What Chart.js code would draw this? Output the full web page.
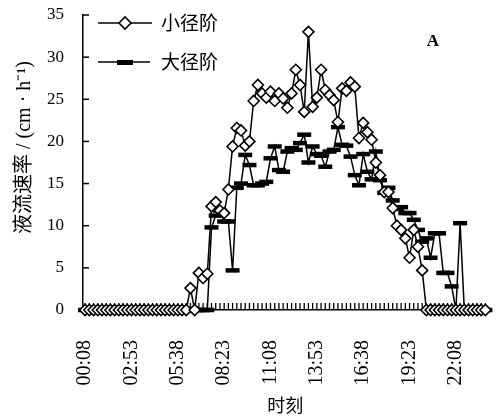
<!DOCTYPE html>
<html>
<head>
<meta charset="utf-8">
<script src="https://cdn.jsdelivr.net/npm/chart.js@4.4.1/dist/chart.umd.min.js"></script>
<style>
  body { margin: 0; background: #fff; }
</style>
</head>
<body>
<canvas id="myChart" width="499" height="420"></canvas>
<script>
Chart.defaults.font.family = "'Liberation Serif', 'Noto Sans CJK SC', serif";
Chart.defaults.color = '#000';

// time of day, every 15 min starting at 00:08
var times = [];
for (var m = 8; m < 24 * 60; m += 15) {
    var hh = Math.floor(m / 60), mm = m % 60;
    times.push((hh < 10 ? '0' : '') + hh + ':' + (mm < 10 ? '0' : '') + mm);
}

var yTicks = [0, 5, 10, 15, 20, 25, 30, 35];

// 小径阶 (small diameter class)
var smallVals = [
    0, 0, 0, 0, 0, 0, 0, 0, 0, 0, 0, 0, 0, 0, 0, 0, 0, 0, 0, 0, 0, 0, 0, 0, 0,
    2.6, 0, 4.4, 3.8, 4.3, 12.3, 12.8, 11.8, 11.5, 14.3, 19.4, 21.6, 21.3, 19.5, 20.0,
    24.8, 26.7, 25.7, 25.2, 25.9, 24.8, 25.7, 25.1, 24.0, 25.7, 28.5, 26.7, 23.5, 33.0,
    24.1, 25.2, 28.5, 26.1, 25.5, 24.9, 22.3, 26.3, 26.0, 27.0, 26.5, 20.4, 22.2, 21.1,
    20.2, 17.5, 16.0, 14.0, 14.0, 12.1, 10.0, 9.5, 8.5, 6.2, 9.5, 7.5, 4.7,
    0, 0, 0, 0, 0, 0, 0, 0, 0, 0, 0, 0, 0, 0, 0
];

// 大径阶 (large diameter class)
var bigVals = [
    0, 0, 0, 0, 0, 0, 0, 0, 0, 0, 0, 0, 0, 0, 0, 0, 0, 0, 0, 0, 0, 0, 0, 0, 0, 0, 0, 0, 0, 0,
    9.8, 11.2, 11.8, 10.5, 10.5, 4.7, 14.5, 15.0, 18.4, 17.2, 14.8, 14.8, 15.0, 15.2, 18.0,
    19.4, 16.6, 16.4, 18.8, 19.2, 19.0, 19.8, 20.8, 17.5, 19.4, 18.5, 18.3, 17.0, 18.8,
    19.0, 21.7, 19.6, 19.5, 18.2, 16.0, 14.8, 18.5, 16.4, 15.5, 18.8, 15.4, 13.9, 14.5,
    13.0, 12.0, 12.2, 11.5, 11.5, 10.7, 9.5, 8.1, 8.5, 6.2, 9.1, 9.1, 4.4, 4.4, 2.8, 0, 10.3,
    0, 0, 0, 0, 0, 0
];

// inward tick marks, legend box and panel letter
var extras = {
    id: 'extras',
    beforeDatasetsDraw: function (chart) {
        var ctx = chart.ctx;
        var x = chart.scales.x, y = chart.scales.y, area = chart.chartArea;
        ctx.save();
        ctx.strokeStyle = '#000';
        ctx.lineWidth = 1.3;
        for (var i = 0; i < times.length; i++) {
            var px = x.getPixelForValue(i);
            ctx.beginPath();
            ctx.moveTo(px, area.bottom);
            ctx.lineTo(px, area.bottom - 7);
            ctx.stroke();
        }
        ctx.lineWidth = 1.5;
        yTicks.forEach(function (v) {
            var py = y.getPixelForValue(v);
            ctx.beginPath();
            ctx.moveTo(area.left, py);
            ctx.lineTo(area.left + 6, py);
            ctx.stroke();
        });
        ctx.restore();
    },
    afterDraw: function (chart) {
        var ctx = chart.ctx;
        ctx.save();
        ctx.strokeStyle = '#000';
        ctx.fillStyle = '#000';
        // legend row 1: diamond
        ctx.lineWidth = 1.5;
        ctx.beginPath();
        ctx.moveTo(98, 23);
        ctx.lineTo(152, 23);
        ctx.stroke();
        ctx.beginPath();
        ctx.moveTo(119, 23);
        ctx.lineTo(125, 17);
        ctx.lineTo(131, 23);
        ctx.lineTo(125, 29);
        ctx.closePath();
        ctx.fillStyle = '#fff';
        ctx.fill();
        ctx.lineWidth = 1.6;
        ctx.stroke();
        // legend row 2: dash
        ctx.lineWidth = 1.5;
        ctx.beginPath();
        ctx.moveTo(98, 62);
        ctx.lineTo(150, 62);
        ctx.stroke();
        ctx.fillStyle = '#000';
        ctx.fillRect(117, 60, 16, 5);
        ctx.font = "19px 'Noto Sans CJK SC'";
        ctx.textBaseline = 'middle';
        ctx.textAlign = 'left';
        ctx.fillText('小径阶', 161, 23);
        ctx.fillText('大径阶', 161, 62);
        ctx.font = "bold 17px 'Liberation Serif'";
        ctx.textAlign = 'center';
        ctx.fillText('A', 433, 42);
        ctx.restore();
    }
};

var ctx = document.getElementById('myChart').getContext('2d');
var myChart = new Chart(ctx, {
    type: 'line',
    data: {
        labels: times,
        datasets: [{
            label: '小径阶',
            data: smallVals,
            borderColor: '#000',
            borderWidth: 1.5,
            pointStyle: 'rectRot',
            pointRadius: 5.5,
            pointBorderWidth: 1.6,
            pointBackgroundColor: '#fff',
            pointBorderColor: '#000',
            clip: false,
            order: 0
        }, {
            label: '大径阶',
            data: bigVals,
            borderColor: '#000',
            borderWidth: 1.5,
            pointStyle: 'line',
            pointRadius: 7,
            pointBorderWidth: 4.5,
            pointBorderColor: '#000',
            clip: false,
            order: 1
        }]
    },
    options: {
        responsive: false,
        animation: false,
        layout: {
            padding: { top: 15, right: 8, left: 0, bottom: 0 }
        },
        plugins: {
            legend: { display: false },
            tooltip: { enabled: false }
        },
        scales: {
            x: {
                type: 'category',
                offset: true,
                grid: { display: false },
                border: { display: true, color: '#000', width: 1.5 },
                ticks: {
                    autoSkip: false,
                    minRotation: 90,
                    maxRotation: 90,
                    padding: 22,
                    font: { size: 20 },
                    callback: function (value, index) {
                        return index % 11 === 0 ? times[index] : '';
                    }
                },
                title: {
                    display: true,
                    text: '时刻',
                    font: { size: 18, family: "'Noto Sans CJK SC'" },
                    padding: { top: 0, bottom: 4 }
                },
                afterFit: function (scale) {
                    scale.height = 110;
                    scale.paddingLeft = 0;
                    scale.paddingRight = 0;
                }
            },
            y: {
                min: 0,
                max: 35,
                afterBuildTicks: function (scale) {
                    scale.ticks = yTicks.map(function (v) { return { value: v }; });
                },
                grid: { display: false },
                border: { display: true, color: '#000', width: 1.5 },
                ticks: {
                    padding: 11,
                    font: { size: 17 }
                },
                title: {
                    display: true,
                    text: '      液流速率 / (cm · h⁻¹)',
                    font: { size: 20, family: "'Liberation Serif', 'Noto Sans CJK SC'" },
                    padding: { top: 13, bottom: 0 }
                },
                afterFit: function (scale) {
                    scale.width = 83;
                    scale.paddingTop = 0;
                    scale.paddingBottom = 0;
                }
            }
        }
    },
    plugins: [extras]
});
</script>
</body>
</html>
